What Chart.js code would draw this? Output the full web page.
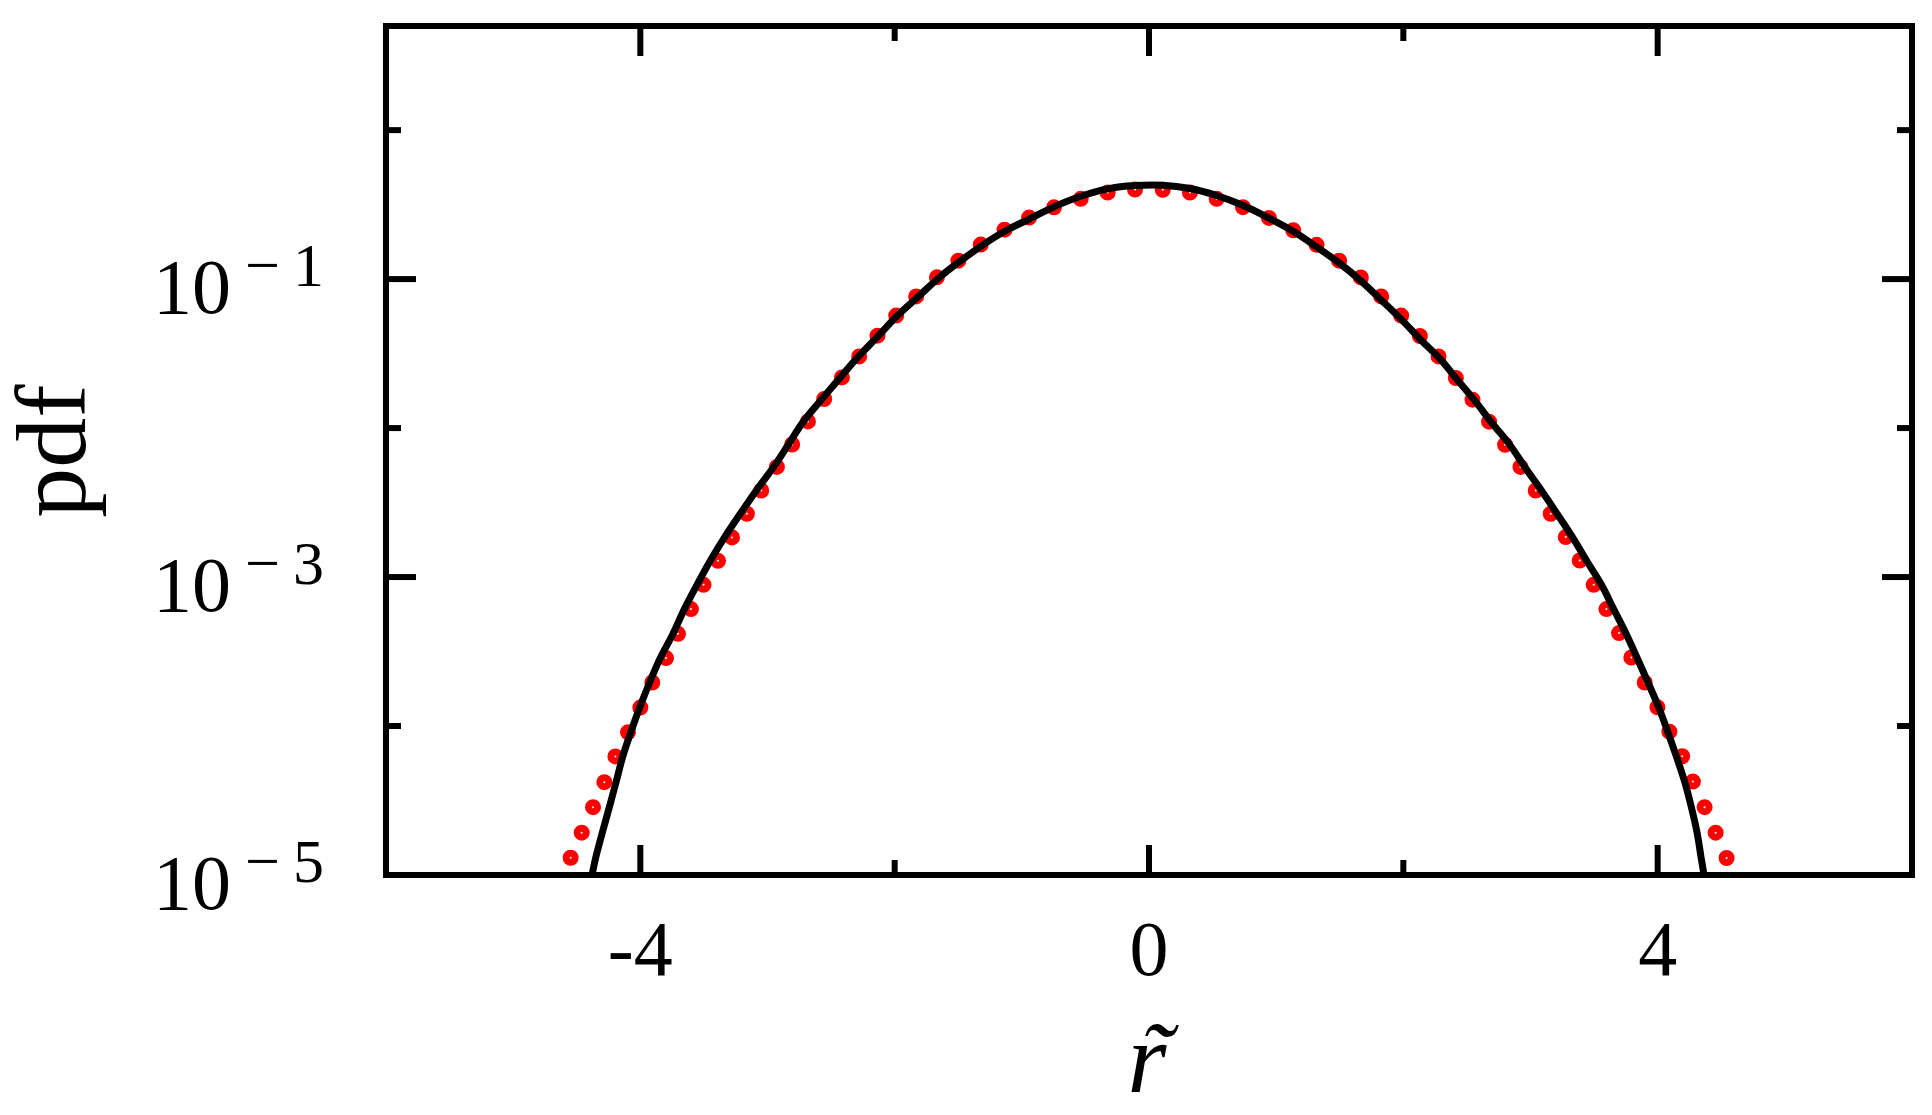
<!DOCTYPE html>
<html>
<head>
<meta charset="utf-8">
<script src="https://cdn.jsdelivr.net/npm/chart.js@4.4.1/dist/chart.umd.min.js"></script>
<style>
  html, body { margin: 0; padding: 0; background: #ffffff; }
  #wrap { width: 1932px; height: 1115px; }
</style>
</head>
<body>
<div id="wrap"><canvas id="grafico" width="1932" height="1115"></canvas></div>
<script>
// Pontos vermelhos (dados)
const pontosX = [-4.548, -4.461, -4.372, -4.283, -4.196, -4.097, -4.000, -3.906, -3.798, -3.704,
  -3.602, -3.503, -3.389, -3.279, -3.162, -3.049, -2.926, -2.806, -2.682, -2.554,
  -2.415, -2.279, -2.135, -1.988, -1.831, -1.668, -1.499, -1.323, -1.136, -0.943,
  -0.747, -0.537, -0.325, -0.110, 0.108, 0.322, 0.532, 0.739, 0.943, 1.134,
  1.318, 1.495, 1.666, 1.826, 1.983, 2.130, 2.277, 2.413, 2.544, 2.674,
  2.800, 2.921, 3.041, 3.159, 3.277, 3.387, 3.497, 3.597, 3.696, 3.793,
  3.898, 3.998, 4.092, 4.193, 4.277, 4.369, 4.456, 4.542];
const pontosY = [1.306e-5, 1.923e-5, 2.851e-5, 4.198e-5, 6.252e-5, 9.08e-5, 1.330e-4, 1.959e-4, 2.858e-4, 4.159e-4,
  6.095e-4, 8.87e-4, 1.285e-3, 1.845e-3, 2.661e-3, 3.811e-3, 5.483e-3, 7.762e-3, 1.109e-2, 1.567e-2,
  2.188e-2, 3.027e-2, 4.169e-2, 5.689e-2, 7.656e-2, 0.1028, 0.1330, 0.1706, 0.2148, 0.2588,
  0.3034, 0.3459, 0.3811, 0.3990, 0.3972, 0.3811, 0.3459, 0.3041, 0.2576, 0.2128,
  0.1698, 0.1330, 0.1026, 7.656e-2, 5.689e-2, 4.150e-2, 3.027e-2, 2.168e-2, 1.552e-2, 1.104e-2,
  7.727e-3, 5.483e-3, 3.811e-3, 2.661e-3, 1.854e-3, 1.291e-3, 8.87e-4, 6.095e-4, 4.207e-4, 2.884e-4,
  1.959e-4, 1.337e-4, 9.16e-5, 6.266e-5, 4.236e-5, 2.851e-5, 1.923e-5, 1.300e-5];

// Curva preta (ajuste)
const curvaX = [-4.380, -4.351, -4.299, -4.244, -4.191, -4.138, -4.075, -4.005, -3.927, -3.843,
  -3.743, -3.654, -3.554, -3.450, -3.338, -3.214, -3.088, -2.952, -2.837, -2.717,
  -2.572, -2.428, -2.284, -2.127, -1.978, -1.813, -1.648, -1.480, -1.302, -1.124,
  -0.935, -0.747, -0.537, -0.325, -0.110, 0.108, 0.322, 0.532, 0.741, 0.941,
  1.134, 1.318, 1.495, 1.664, 1.823, 1.986, 2.130, 2.287, 2.424, 2.562,
  2.695, 2.837, 2.955, 3.086, 3.209, 3.330, 3.440, 3.558, 3.654, 3.749,
  3.837, 3.924, 4.008, 4.079, 4.147, 4.212, 4.265, 4.310, 4.342, 4.365];
const curvaY = [1.0e-5, 1.306e-5, 1.923e-5, 2.851e-5, 4.198e-5, 6.252e-5, 9.08e-5, 1.330e-4, 1.959e-4, 2.858e-4,
  4.159e-4, 6.095e-4, 8.87e-4, 1.285e-3, 1.845e-3, 2.661e-3, 3.811e-3, 5.483e-3, 7.727e-3, 1.109e-2,
  1.567e-2, 2.188e-2, 3.027e-2, 4.169e-2, 5.689e-2, 7.656e-2, 0.1028, 0.1330, 0.1706, 0.2118,
  0.2547, 0.3055, 0.3597, 0.4036, 0.4246, 0.4266, 0.4055, 0.3639, 0.3119, 0.2576,
  0.2094, 0.1644, 0.1285, 9.77e-2, 7.278e-2, 5.346e-2, 3.963e-2, 2.924e-2, 2.113e-2, 1.528e-2,
  1.086e-2, 7.727e-3, 5.483e-3, 3.811e-3, 2.661e-3, 1.854e-3, 1.291e-3, 8.87e-4, 6.095e-4, 4.207e-4,
  2.884e-4, 1.959e-4, 1.337e-4, 9.16e-5, 6.252e-5, 4.236e-5, 2.851e-5, 1.923e-5, 1.300e-5, 1.0e-5];

// Eixos e marcas
const xMin = -6, xMax = 6;
const yMin = 1e-5, yMax = 5;
const xTicksMaiores = [-4, 0, 4];
const xTicksLabels = ["-4", "0", "4"];
const xTicksMenores = [-2, 2];
const yTicksMaiores = [1e-1, 1e-3, 1e-5];
const yTicksExpoentes = ["\u22121", "\u22123", "\u22125"];
const yTicksMenores = [1, 1e-2, 1e-4];
const tituloX = "r";
const tituloY = "pdf";

function juntar(xs, ys) {
    return xs.map((x, i) => ({ x: x, y: ys[i] }));
}

// Moldura, marcas e textos
const moldura = {
    id: "moldura",
    afterDraw(chart) {
        const ctx = chart.ctx;
        const a = chart.chartArea;
        const sx = chart.scales.x;
        const sy = chart.scales.y;

        ctx.save();
        ctx.strokeStyle = "#000";
        ctx.lineCap = "butt";
        ctx.lineWidth = 6;
        ctx.strokeRect(a.left, a.top, a.right - a.left, a.bottom - a.top);

        const linha = (x1, y1, x2, y2) => {
            ctx.beginPath();
            ctx.moveTo(x1, y1);
            ctx.lineTo(x2, y2);
            ctx.stroke();
        };

        xTicksMaiores.forEach(v => {
            const px = sx.getPixelForValue(v);
            linha(px, a.bottom, px, a.bottom - 30);
            linha(px, a.top, px, a.top + 30);
        });
        xTicksMenores.forEach(v => {
            const px = sx.getPixelForValue(v);
            linha(px, a.bottom, px, a.bottom - 15);
            linha(px, a.top, px, a.top + 15);
        });
        yTicksMaiores.forEach(v => {
            const py = sy.getPixelForValue(v);
            linha(a.left, py, a.left + 30, py);
            linha(a.right, py, a.right - 30, py);
        });
        yTicksMenores.forEach(v => {
            const py = sy.getPixelForValue(v);
            linha(a.left, py, a.left + 15, py);
            linha(a.right, py, a.right - 15, py);
        });

        ctx.fillStyle = "#000";
        ctx.textBaseline = "alphabetic";

        // rotulos do eixo x
        ctx.font = '78px "Liberation Serif"';
        ctx.textAlign = "center";
        xTicksMaiores.forEach((v, i) => {
            ctx.fillText(xTicksLabels[i], sx.getPixelForValue(v), a.bottom + 100);
        });

        // rotulos do eixo y (10 com expoente)
        yTicksMaiores.forEach((v, i) => {
            const py = sy.getPixelForValue(v);
            ctx.textAlign = "left";
            ctx.font = '78px "Liberation Serif"';
            ctx.fillText("10", 153, py + 33.5);
            ctx.font = '62px "Liberation Serif"';
            const exp = yTicksExpoentes[i];
            ctx.fillText(exp.charAt(0), 245, py + 6.5);
            ctx.fillText(exp.slice(1), 293, py + 6.5);
        });

        // titulo x: r com til
        ctx.textAlign = "center";
        ctx.font = 'italic 100px "Liberation Serif"';
        ctx.fillText(tituloX, 1147, 1092);
        ctx.fillText("\u02DC", 1156, 1092);

        // titulo y
        ctx.translate(85, 451);
        ctx.rotate(-Math.PI / 2);
        ctx.font = '100px "Liberation Serif"';
        ctx.fillText(tituloY, 0, 0);
        ctx.restore();
    }
};

const ctx = document.getElementById("grafico").getContext("2d");
const chart = new Chart(ctx, {
    type: "scatter",
    data: {
        datasets: [
            {
                label: "ajuste",
                data: juntar(curvaX, curvaY),
                showLine: true,
                borderColor: "#000000",
                borderWidth: 7,
                pointRadius: 0,
                tension: 0.35,
                order: 0
            },
            {
                label: "dados",
                data: juntar(pontosX, pontosY),
                showLine: false,
                pointRadius: 4.5,
                pointBorderWidth: 7,
                pointBorderColor: "#ff0000",
                pointBackgroundColor: "#ffffff",
                order: 1
            }
        ]
    },
    options: {
        responsive: false,
        animation: false,
        layout: { padding: { top: 26, right: 20, left: 0, bottom: 0 } },
        plugins: { legend: { display: false }, tooltip: { enabled: false } },
        scales: {
            x: {
                type: "linear", min: xMin, max: xMax,
                grid: { display: false }, border: { display: false },
                ticks: { display: false },
                afterFit: s => { s.height = 240; }
            },
            y: {
                type: "logarithmic", min: yMin, max: yMax,
                grid: { display: false }, border: { display: false },
                ticks: { display: false },
                afterFit: s => { s.width = 386; }
            }
        }
    },
    plugins: [moldura]
});
</script>
</body>
</html>
